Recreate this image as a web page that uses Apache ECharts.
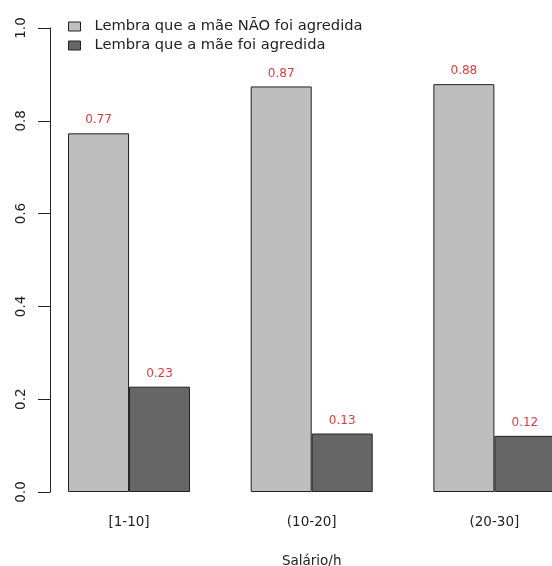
<!DOCTYPE html>
<html>
<head>
<meta charset="utf-8">
<script src="https://cdn.jsdelivr.net/npm/echarts@6/dist/echarts.min.js"></script>
<style>
html,body{margin:0;padding:0;background:#fff;}
#c{width:552px;height:566px;overflow:hidden;position:relative;}
</style>
</head>
<body>
<div id="c"></div>
<script>
var categories = ['[1-10]', '(10-20]', '(20-30]'];
var seriesNames = ['Lembra que a mãe NÃO foi agredida', 'Lembra que a mãe foi agredida'];
var naoAgredida = [0.773, 0.874, 0.879];
var agredida = [0.227, 0.126, 0.121];
var yTicks = [0, 0.2, 0.4, 0.6, 0.8, 1.0];

var FONT = 'DejaVu Sans';
var chart = echarts.init(document.getElementById('c'), null, {renderer: 'canvas', width: 600, height: 566});

function barSeries(name, data, color) {
  return {
    name: name,
    type: 'bar',
    data: data,
    barWidth: 61,
    barGap: '0%',
    itemStyle: {color: color, borderColor: '#222', borderWidth: 1},
    label: {
      show: true,
      position: 'top',
      distance: 7,
      color: '#e23a3a',
      fontFamily: FONT,
      fontSize: 12,
      formatter: function (p) { return p.value.toFixed(2); }
    },
    emphasis: {disabled: true},
    animation: false
  };
}

chart.setOption({
  backgroundColor: '#fff',
  animation: false,
  legend: {
    orient: 'vertical',
    left: 63,
    top: 14,
    itemWidth: 12,
    itemHeight: 9,
    itemGap: 4,
    icon: 'rect',
    itemStyle: {borderColor: '#222', borderWidth: 1},
    textStyle: {fontFamily: FONT, fontSize: 14.7, color: '#222', lineHeight: 15, padding: [0, 0, 0, 9]},
    selectedMode: false,
    data: seriesNames
  },
  grid: {left: 37.7, right: 14.3, top: 28, bottom: 74, containLabel: false, outerBoundsMode: 'none'},
  xAxis: {
    type: 'category',
    data: categories,
    boundaryGap: true,
    axisLine: {show: false},
    axisTick: {show: false},
    axisLabel: {fontFamily: FONT, fontSize: 13.5, color: '#222', margin: 23},
    name: 'Salário/h',
    nameLocation: 'middle',
    nameGap: 62,
    nameTextStyle: {fontFamily: FONT, fontSize: 13.5, color: '#222'}
  },
  yAxis: {
    type: 'value',
    min: 0,
    max: 1,
    interval: 0.2,
    offset: -12.3,
    axisLine: {show: true, lineStyle: {color: '#222', width: 1}},
    axisTick: {show: true, length: 12, lineStyle: {color: '#222', width: 1}},
    splitLine: {show: false},
    axisLabel: {
      rotate: 90,
      fontFamily: FONT,
      fontSize: 13.5,
      color: '#222',
      margin: 22,
      formatter: function (v) { return v.toFixed(1); }
    }
  },
  series: [
    barSeries(seriesNames[0], naoAgredida, '#bebebe'),
    barSeries(seriesNames[1], agredida, '#666666')
  ]
});
</script>
</body>
</html>
